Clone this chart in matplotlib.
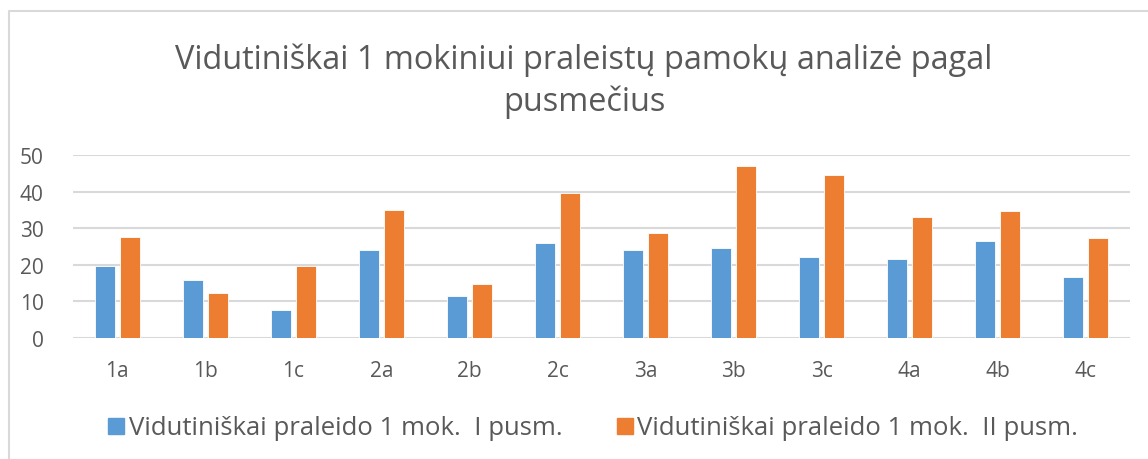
import matplotlib
matplotlib.use("Agg")
import matplotlib.pyplot as plt
from matplotlib.lines import Line2D
import numpy as np

categories = ["1a", "1b", "1c", "2a", "2b", "2c", "3a", "3b", "3c", "4a", "4b", "4c"]
sem1 = [19.7, 15.9, 7.6, 24.1, 11.5, 26.0, 24.1, 24.6, 22.1, 21.6, 26.6, 16.6]
sem2 = [27.6, 12.2, 19.8, 35.1, 14.8, 39.8, 28.8, 47.0, 44.7, 33.2, 34.7, 27.4]
series_names = ["Vidutiniškai praleido 1 mok.  I pusm.", "Vidutiniškai praleido 1 mok.  II pusm."]
title = "Vidutiniškai 1 mokiniui praleistų pamokų analizė pagal\npusmečius"
yticks = [0, 10, 20, 30, 40, 50]

BLUE = "#5B9BD5"
ORANGE = "#ED7D31"
GRAY = "#595959"
GRID = "#D9D9D9"

plt.rcParams["font.family"] = ["Open Sans", "DejaVu Sans"]

W, H = 1148, 460
fig = plt.figure(figsize=(W / 100, H / 100), dpi=100)
ax = fig.add_axes([73 / W, 1 - 339 / H, (1130 - 73) / W, (339 - 156.3) / H])

x = np.arange(len(categories))
bw = 0.227
gap = 0.057
ax.bar(x - (bw + gap) / 2, sem1, bw, color=BLUE, edgecolor="white", linewidth=0.6, zorder=3)
ax.bar(x + (bw + gap) / 2, sem2, bw, color=ORANGE, edgecolor="white", linewidth=0.6, zorder=3)

ax.set_xlim(-0.5, len(categories) - 0.5)
ax.set_ylim(0, 50)
ax.set_yticks(yticks)
ax.set_xticks(x)
ax.set_xticklabels(categories)
ax.yaxis.grid(True, color=GRID, linewidth=1.5, zorder=0)
ax.set_axisbelow(True)
for s in ["top", "right", "left", "bottom"]:
    ax.spines[s].set_visible(False)
ax.tick_params(axis="both", length=0, colors=GRAY, labelsize=15)
ax.tick_params(axis="x", pad=16)
ax.tick_params(axis="y", pad=21)

fig.text(0.5 + 10 / W, 1 - 81 / H, title, ha="center", va="center", fontsize=23.4, color=GRAY,
         linespacing=1.33)

handles = [Line2D([], [], marker="s", linestyle="none", markersize=12, color=BLUE),
           Line2D([], [], marker="s", linestyle="none", markersize=12, color=ORANGE)]
leg = fig.legend(handles, series_names, loc="center", bbox_to_anchor=(591 / W, 1 - 429 / H),
                 ncol=2, frameon=False, handletextpad=0.0, columnspacing=1.9,
                 handlelength=1.0, prop={"family": ["Open Sans", "DejaVu Sans"], "size": 18.5})
for t in leg.get_texts():
    t.set_color(GRAY)

# chart border
fig.add_artist(Line2D([9 / W, 9 / W, 1.0], [0, 1 - 12 / H, 1 - 12 / H],
                      transform=fig.transFigure, color=GRID, linewidth=1.5))

fig.savefig("out.png", dpi=100, facecolor="white")
